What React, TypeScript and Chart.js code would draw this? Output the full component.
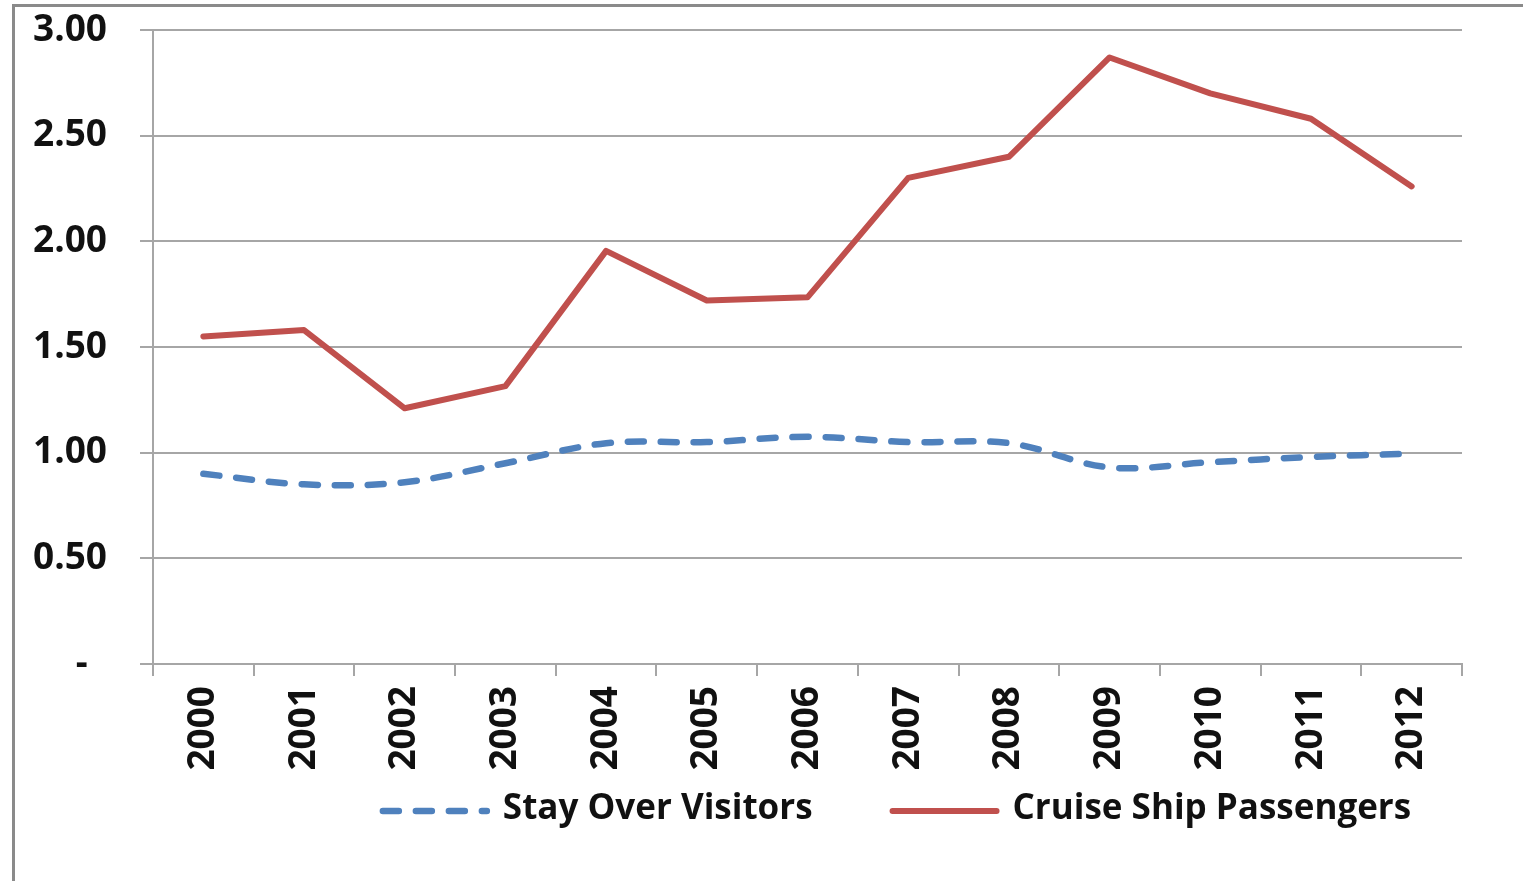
import React, { useEffect, useRef } from "react";
import { Chart, registerables } from "chart.js";

Chart.register(...registerables);

const years = ["2000","2001","2002","2003","2004","2005","2006","2007","2008","2009","2010","2011","2012"];
const stayOver = [0.90, 0.85, 0.86, 0.95, 1.045, 1.05, 1.075, 1.05, 1.045, 0.93, 0.955, 0.98, 0.995];
const cruise = [1.55, 1.58, 1.21, 1.315, 1.955, 1.72, 1.735, 2.30, 2.40, 2.87, 2.70, 2.58, 2.26];
const yTicks = [0, 0.5, 1, 1.5, 2, 2.5, 3];

const FONT = "'Open Sans', 'DejaVu Sans', sans-serif";
const BLUE = "#4F81BD";
const RED = "#C0504D";
const GRID = "#a6a6a6";

const legendPlugin = {
  id: "customLegend",
  afterDraw(chart: any) {
    const ctx = chart.ctx;
    const area = chart.chartArea;
    const sampleW = 110;
    const textGap = 13;
    const itemGap = 77;
    ctx.save();
    ctx.font = `bold 35px ${FONT}`;
    const items = chart.data.datasets.map((ds: any) => ({
      ds,
      w: sampleW + textGap + ctx.measureText(ds.label).width,
    }));
    const total = items.reduce((s: number, it: any) => s + it.w, 0) + itemGap * (items.length - 1);
    const cx = (area.left + area.right) / 2 + 88;
    let x = cx - total / 2;
    const y = area.bottom + 145;
    items.forEach((it: any) => {
      const ds = it.ds;
      ctx.beginPath();
      ctx.strokeStyle = ds.borderColor;
      ctx.lineWidth = ds.borderWidth;
      ctx.lineCap = "round";
      ctx.setLineDash(ds.borderDash || []);
      ctx.moveTo(x + 3, y + 2);
      ctx.lineTo(x + sampleW - 3, y + 2);
      ctx.stroke();
      ctx.setLineDash([]);
      ctx.fillStyle = "#111";
      ctx.textBaseline = "middle";
      ctx.textAlign = "left";
      ctx.fillText(ds.label, x + sampleW + textGap, y);
      x += it.w + itemGap;
    });
    ctx.restore();
  },
};

export default function App() {
  const ref = useRef<HTMLCanvasElement>(null);
  useEffect(() => {
    if (!ref.current) return;
    const chart = new Chart(ref.current, {
      type: "line",
      data: {
        labels: years,
        datasets: [
          {
            label: "Stay Over Visitors",
            data: stayOver,
            borderColor: BLUE,
            backgroundColor: BLUE,
            borderWidth: 6.5,
            borderDash: [16, 17],
            borderCapStyle: "round",
            tension: 0.35,
            pointRadius: 0,
            fill: false,
          },
          {
            label: "Cruise Ship Passengers",
            data: cruise,
            borderColor: RED,
            backgroundColor: RED,
            borderWidth: 6,
            borderCapStyle: "round",
            borderJoinStyle: "round",
            tension: 0,
            pointRadius: 0,
            fill: false,
          },
        ],
      },
      options: {
        responsive: false,
        animation: false,
        layout: { padding: { top: 30, left: 0, right: 61, bottom: 0 } },
        plugins: {
          legend: { display: false },
          tooltip: { enabled: false },
        },
        scales: {
          x: {
            offset: true,
            grid: {
              offset: true,
              drawOnChartArea: false,
              drawTicks: true,
              tickLength: 12,
              color: GRID,
              lineWidth: 2,
            },
            border: { display: true, color: GRID, width: 2 },
            ticks: {
              minRotation: 90,
              maxRotation: 90,
              padding: 10,
              color: "#111",
              font: { family: FONT, size: 37, weight: "bold" },
            },
            afterFit(scale: any) {
              scale.height = 217;
            },
          },
          y: {
            min: 0,
            max: 3,
            afterBuildTicks(scale: any) {
              scale.ticks = yTicks.map((v) => ({ value: v }));
            },
            grid: {
              color: GRID,
              lineWidth: 2,
              tickLength: 13,
            },
            border: { display: true, color: GRID, width: 2 },
            ticks: {
              padding: 33,
              color: "#111",
              font: { family: FONT, size: 37, weight: "bold" },
              callback: (v: any) => (Number(v) === 0 ? "-  " : Number(v).toFixed(2)),
            },
            afterFit(scale: any) {
              scale.width = 153;
              scale.paddingTop = 22;
              scale.paddingBottom = 22;
            },
          },
        },
      },
      plugins: [legendPlugin],
    });
    return () => chart.destroy();
  }, []);

  return (
    <div style={{ position: "fixed", left: 0, top: 0, width: 1523, height: 881, background: "#fff", overflow: "hidden" }}>
      <div
        style={{
          position: "absolute",
          left: 12,
          top: 4,
          width: 1600,
          height: 1000,
          borderTop: "3px solid #8a8a8a",
          borderLeft: "3px solid #8a8a8a",
        }}
      />
      <canvas ref={ref} width={1523} height={881} style={{ position: "absolute", left: 0, top: 0, display: "block" }} />
    </div>
  );
}
